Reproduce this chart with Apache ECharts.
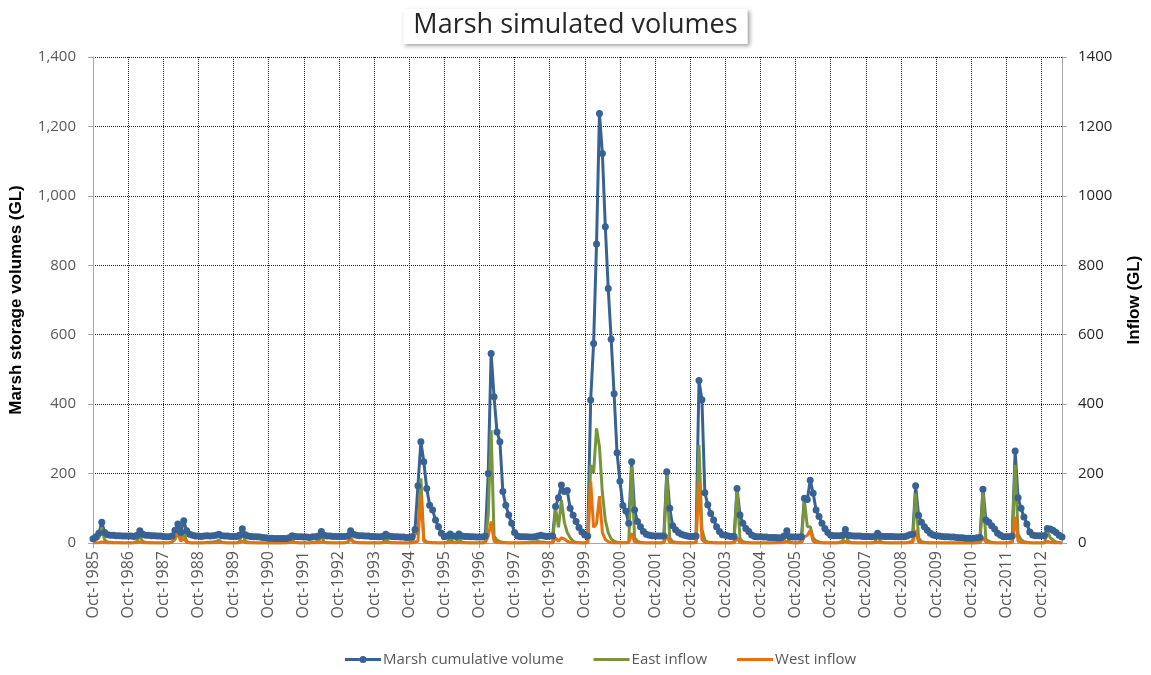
<!DOCTYPE html>
<html>
<head>
<meta charset="utf-8">
<title>Marsh simulated volumes</title>
<script src="https://cdn.jsdelivr.net/npm/echarts@6/dist/echarts.min.js"></script>
<style>
  html, body { margin: 0; padding: 0; background: #fff; }
  #chart { width: 1151px; height: 675px; }
</style>
</head>
<body>
<div id="chart"></div>
<script>
// monthly values from Oct-1985, one row per water year (Oct..Sep)
const volume = [
  12, 18, 28, 60, 30, 24, 22, 22, 21, 21, 20, 20,
  20, 20, 19, 22, 35, 25, 22, 22, 21, 21, 20, 20,
  19, 18, 18, 20, 37, 55, 30, 64, 35, 25, 22, 20,
  20, 19, 20, 21, 20, 21, 22, 25, 21, 20, 20, 19,
  19, 19, 22, 41, 24, 20, 19, 18, 18, 17, 16, 15,
  14, 14, 13, 13, 13, 13, 13, 15, 21, 19, 18, 18,
  17, 17, 16, 18, 18, 20, 33, 22, 20, 20, 19, 19,
  19, 19, 19, 20, 35, 25, 22, 21, 21, 20, 20, 19,
  19, 18, 18, 19, 25, 20, 19, 18, 18, 17, 17, 16,
  16, 18, 39, 165, 292, 234, 157, 109, 95, 66, 47, 28,
  18, 20, 26, 20, 19, 26, 20, 19, 19, 18, 18, 17,
  17, 17, 20, 200, 546, 421, 320, 292, 148, 109, 81, 57,
  30, 20, 18, 18, 18, 17, 17, 18, 20, 22, 20, 19,
  20, 20, 105, 130, 167, 148, 151, 100, 80, 62, 45, 32,
  23, 20, 412, 575, 861, 1237, 1122, 911, 733, 587, 430, 260,
  178, 108, 92, 57, 234, 95, 62, 47, 33, 25, 22, 21,
  20, 20, 20, 20, 205, 100, 50, 38, 30, 25, 22, 20,
  19, 19, 20, 468, 413, 145, 110, 85, 66, 47, 33, 24,
  22, 20, 19, 19, 157, 81, 57, 42, 33, 23, 19, 18,
  18, 17, 17, 16, 16, 16, 15, 15, 20, 35, 18, 17,
  17, 17, 18, 129, 125, 181, 143, 95, 76, 57, 42, 30,
  22, 21, 21, 21, 22, 39, 22, 21, 20, 20, 20, 19,
  19, 19, 18, 19, 28, 20, 19, 19, 19, 19, 18, 18,
  18, 18, 20, 24, 25, 165, 80, 60, 47, 37, 28, 23,
  21, 20, 19, 18, 18, 17, 17, 16, 15, 15, 14, 14,
  14, 14, 15, 16, 155, 66, 60, 50, 40, 28, 22, 18,
  18, 18, 20, 265, 130, 100, 75, 55, 32, 23, 21, 21,
  21, 21, 42, 40, 36, 30, 22, 17
]

const eastInflow = [
  2, 8, 15, 45, 8, 3, 2, 1, 1, 1, 0, 0,
  0, 0, 1, 5, 20, 4, 2, 1, 1, 0, 0, 0,
  0, 0, 1, 3, 10, 37, 8, 31, 5, 1, 0, 0,
  0, 0, 1, 2, 2, 3, 4, 8, 2, 1, 0, 0,
  0, 0, 3, 31, 5, 2, 1, 1, 0, 0, 0, 0,
  0, 0, 0, 0, 0, 1, 1, 3, 8, 2, 1, 0,
  0, 0, 0, 2, 3, 5, 20, 3, 1, 1, 0, 0,
  0, 0, 1, 3, 15, 4, 2, 1, 1, 0, 0, 0,
  0, 0, 0, 2, 12, 3, 1, 1, 0, 0, 0, 0,
  0, 3, 25, 30, 186, 10, 3, 2, 1, 1, 0, 0,
  0, 2, 12, 3, 2, 12, 3, 1, 1, 0, 0, 0,
  0, 0, 3, 80, 325, 20, 8, 4, 2, 1, 0, 0,
  0, 0, 0, 1, 1, 1, 2, 3, 4, 3, 2, 1,
  1, 2, 100, 45, 124, 60, 30, 15, 5, 2, 1, 0,
  0, 2, 225, 202, 330, 277, 144, 66, 30, 12, 5, 2,
  1, 1, 1, 2, 220, 15, 5, 2, 1, 0, 0, 0,
  0, 0, 0, 2, 195, 15, 4, 2, 1, 0, 0, 0,
  0, 0, 2, 282, 40, 8, 3, 2, 1, 0, 0, 0,
  0, 0, 0, 3, 155, 12, 4, 2, 1, 0, 0, 0,
  0, 0, 0, 0, 1, 1, 2, 4, 10, 25, 3, 1,
  0, 1, 5, 124, 47, 47, 15, 6, 3, 1, 0, 0,
  0, 0, 0, 2, 5, 30, 5, 1, 1, 0, 0, 0,
  0, 0, 0, 2, 20, 4, 1, 1, 0, 0, 0, 0,
  0, 0, 1, 3, 5, 143, 15, 4, 2, 1, 0, 0,
  0, 0, 0, 0, 0, 0, 0, 0, 0, 0, 0, 0,
  0, 0, 1, 3, 148, 10, 5, 2, 1, 0, 0, 0,
  0, 1, 5, 225, 25, 10, 4, 2, 1, 0, 0, 0,
  0, 0, 35, 15, 8, 3, 1, 0
]

const westInflow = [
  0, 0, 1, 3, 1, 0, 0, 0, 0, 0, 0, 0,
  0, 0, 0, 1, 3, 1, 0, 0, 0, 0, 0, 0,
  0, 0, 0, 2, 15, 25, 5, 13, 2, 0, 0, 0,
  0, 0, 0, 0, 0, 1, 1, 2, 1, 0, 0, 0,
  0, 0, 1, 5, 1, 0, 0, 0, 0, 0, 0, 0,
  0, 0, 0, 0, 0, 0, 0, 1, 2, 1, 0, 0,
  0, 0, 0, 0, 1, 1, 3, 1, 0, 0, 0, 0,
  0, 0, 0, 2, 10, 2, 1, 0, 0, 0, 0, 0,
  0, 0, 0, 0, 2, 1, 0, 0, 0, 0, 0, 0,
  0, 0, 3, 5, 141, 5, 2, 1, 0, 0, 0, 0,
  0, 0, 2, 1, 0, 2, 0, 0, 0, 0, 0, 0,
  0, 0, 1, 20, 62, 5, 2, 1, 0, 0, 0, 0,
  0, 0, 0, 0, 0, 0, 0, 0, 0, 0, 0, 0,
  0, 0, 15, 5, 15, 12, 5, 2, 1, 0, 0, 0,
  0, 0, 177, 45, 55, 135, 30, 10, 4, 1, 0, 0,
  0, 0, 0, 1, 28, 3, 1, 0, 0, 0, 0, 0,
  0, 0, 0, 1, 22, 2, 1, 0, 0, 0, 0, 0,
  0, 0, 1, 177, 10, 2, 1, 0, 0, 0, 0, 0,
  0, 0, 0, 1, 14, 2, 0, 0, 0, 0, 0, 0,
  0, 0, 0, 0, 0, 0, 0, 1, 2, 5, 1, 0,
  0, 0, 1, 18, 22, 37, 5, 2, 1, 0, 0, 0,
  0, 0, 0, 0, 1, 5, 1, 0, 0, 0, 0, 0,
  0, 0, 0, 0, 3, 1, 0, 0, 0, 0, 0, 0,
  0, 0, 0, 1, 2, 37, 3, 1, 0, 0, 0, 0,
  0, 0, 0, 0, 0, 0, 0, 0, 0, 0, 0, 0,
  0, 0, 0, 1, 16, 2, 1, 0, 0, 0, 0, 0,
  0, 0, 1, 76, 5, 2, 1, 0, 0, 0, 0, 0,
  0, 0, 5, 2, 1, 0, 0, 0
]

const seriesNames = ['Marsh cumulative volume', 'East inflow', 'West inflow']
const yTicks = [0, 200, 400, 600, 800, 1000, 1200, 1400]

// month labels, Oct-1985 onwards
const monthNames = ['Jan', 'Feb', 'Mar', 'Apr', 'May', 'Jun', 'Jul', 'Aug', 'Sep', 'Oct', 'Nov', 'Dec']
const months = volume.map((_, i) => {
  const m = (9 + i) % 12
  const y = 1985 + Math.floor((9 + i) / 12)
  return monthNames[m] + '-' + y
})

const colors = ['#386294', '#77953b', '#e8700d']
const gridLine = {show: true, lineStyle: {color: '#222', type: [1, 1], width: 1}}
const grayText = '#595959'
const font = "'Open Sans', 'DejaVu Sans', sans-serif"
const boldFont = "'Liberation Sans', Arial, sans-serif"

// legend icons: 36x9 box (tiny corner specks keep the box size)
const box = 'M0,0h0.01v0.01h-0.01z M35.99,8.99h0.01v0.01h-0.01z '
const lineIcon = 'path://' + box + 'M0,3H36V6H0Z'
// line broken around the dot so the fill has no hole
const dotLineIcon = 'path://' + box + 'M0,3H14.6V6H0Z M21.4,3H36V6H21.4Z M14.5,4.5a3.5,3.5 0 1,0 7,0a3.5,3.5 0 1,0 -7,0z'

const chart = echarts.init(document.getElementById('chart'))

const option = {
  animation: false,
  backgroundColor: '#fff',
  title: {
    text: 'Marsh simulated volumes',
    left: 'center',
    top: 9,
    padding: [3, 10, 5, 10],
    backgroundColor: '#fff',
    shadowColor: 'rgba(0,0,0,0.35)',
    shadowBlur: 4,
    shadowOffsetX: 2,
    shadowOffsetY: 2,
    textStyle: {fontFamily: font, fontSize: 27, fontWeight: 'normal', color: '#262626'}
  },
  legend: {
    data: [
      {name: seriesNames[0], icon: dotLineIcon},
      {name: seriesNames[1], icon: lineIcon},
      {name: seriesNames[2], icon: lineIcon}
    ],
    bottom: 3,
    left: 340,
    itemWidth: 36,
    itemHeight: 9,
    itemGap: 30,
    textStyle: {fontFamily: font, fontSize: 15, color: grayText, padding: [0, 0, 0, -3]}
  },
  grid: {left: 90, right: 83, top: 57, bottom: 132},
  xAxis: {
    type: 'category',
    data: months,
    boundaryGap: false,
    axisLine: {lineStyle: {color: '#a6a6a6'}},
    axisTick: {show: true, interval: 11, length: 5, lineStyle: {color: '#a6a6a6'}},
    axisLabel: {interval: 11, rotate: 90, margin: 8, color: grayText, fontFamily: font, fontSize: 16},
    splitLine: Object.assign({interval: 11}, gridLine)
  },
  yAxis: [
    {
      type: 'value',
      min: yTicks[0],
      max: yTicks[yTicks.length - 1],
      interval: 200,
      name: 'Marsh storage volumes (GL)',
      nameLocation: 'middle',
      nameGap: 68,
      nameTextStyle: {fontFamily: boldFont, fontWeight: 'bold', fontSize: 17, color: '#000'},
      axisLine: {show: true, lineStyle: {color: '#a6a6a6'}},
      axisTick: {show: true, length: 5, lineStyle: {color: '#a6a6a6'}},
      axisLabel: {
        margin: 17, color: grayText, fontFamily: font, fontSize: 15,
        formatter: v => v.toLocaleString('en-US')
      },
      splitLine: gridLine
    },
    {
      type: 'value',
      min: yTicks[0],
      max: yTicks[yTicks.length - 1],
      interval: 200,
      name: 'Inflow (GL)',
      nameLocation: 'middle',
      nameGap: 64,
      nameTextStyle: {fontFamily: boldFont, fontWeight: 'bold', fontSize: 17, color: '#000'},
      axisLine: {show: true, lineStyle: {color: '#a6a6a6'}},
      axisTick: {show: true, length: 5, lineStyle: {color: '#a6a6a6'}},
      axisLabel: {margin: 16, color: '#262626', fontFamily: font, fontSize: 15, formatter: v => String(v)},
      splitLine: {show: false}
    }
  ],
  series: [
    {
      name: seriesNames[0],
      type: 'line',
      data: volume,
      yAxisIndex: 0,
      symbol: 'circle',
      symbolSize: 7,
      showAllSymbol: true,
      itemStyle: {color: colors[0]},
      lineStyle: {width: 3, color: colors[0]}
    },
    {
      name: seriesNames[1],
      type: 'line',
      data: eastInflow,
      yAxisIndex: 1,
      symbol: 'none',
      itemStyle: {color: colors[1]},
      lineStyle: {width: 3, color: colors[1]}
    },
    {
      name: seriesNames[2],
      type: 'line',
      data: westInflow,
      yAxisIndex: 1,
      symbol: 'none',
      itemStyle: {color: colors[2]},
      lineStyle: {width: 3, color: colors[2]}
    }
  ]
}

chart.setOption(option)
window.addEventListener('resize', () => chart.resize())
</script>
</body>
</html>
